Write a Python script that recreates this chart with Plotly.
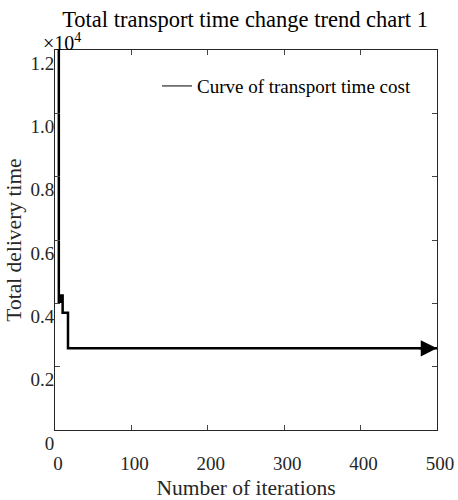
import plotly.graph_objects as go

iterations = [1, 5, 7, 10, 17, 500]
delivery_time = [13800, 4050, 4250, 3700, 2580, 2580]

y_tick_vals = [0, 2000, 4000, 6000, 8000, 10000, 12000]
y_tick_text = ["0", "0.2", "0.4", "0.6", "0.8", "1.0", "1.2"]
x_tick_vals = [0, 100, 200, 300, 400, 500]

FONT = "Liberation Serif, Times New Roman, serif"
TXT = "#262626"
tick_font = dict(family=FONT, size=19, color=TXT)
title_font = dict(family=FONT, size=21.5, color=TXT)

fig = go.Figure()
fig.add_trace(go.Scatter(
    x=iterations, y=delivery_time, mode="lines", line_shape="hv",
    line=dict(color="black", width=2.5), showlegend=False,
    name="Curve of transport time cost",
))
# legend entry (thin line as in the reference legend)
fig.add_trace(go.Scatter(
    x=[None], y=[None], mode="lines", line=dict(color="black", width=1),
    name="Curve of transport time cost", showlegend=True,
))

fig.add_annotation(
    x=iterations[-1], y=delivery_time[-1], ax=iterations[-1] - 25, ay=delivery_time[-1],
    xref="x", yref="y", axref="x", ayref="y", text="", showarrow=True,
    arrowhead=2, arrowsize=1.3, arrowwidth=2.5, arrowcolor="black", standoff=0,
)
fig.add_annotation(
    x=0, y=1, xref="paper", yref="paper", xanchor="center", yanchor="bottom",
    text="×10<sup>4</sup>", showarrow=False, yshift=-6, xshift=7,
    font=dict(family=FONT, size=20, color="black"),
)

fig.update_layout(
    width=458, height=500,
    margin=dict(l=55, r=21, t=50, b=70, autoexpand=False),
    paper_bgcolor="white", plot_bgcolor="white",
    font=dict(family=FONT, size=19, color=TXT),
    title=dict(text="Total transport time change trend chart 1", x=0.535, xanchor="center",
               y=0.962, yanchor="middle", automargin=False,
               font=dict(family=FONT, size=22.5, color="black")),
    showlegend=True,
    legend=dict(x=0.945, y=0.955, xanchor="right", yanchor="top", bgcolor="rgba(0,0,0,0)",
                borderwidth=0, font=dict(family=FONT, size=19, color="black")),
    xaxis=dict(range=[0, 500], tickvals=x_tick_vals, ticks="inside", ticklen=5,
               tickfont=tick_font, automargin=False,
               showline=True, linecolor="#262626", linewidth=1, mirror="ticks",
               showgrid=False, zeroline=False, ticklabelstandoff=16, ticklabelshift=3,
               title=dict(text="Number of iterations", standoff=9, font=title_font)),
    yaxis=dict(range=[0, 12000], tickvals=y_tick_vals, ticktext=y_tick_text,
               tickfont=tick_font, automargin=False,
               ticks="inside", ticklen=5, showline=True, linecolor="#262626", linewidth=1,
               mirror="ticks", showgrid=False, zeroline=False, ticklabelshift=13,
               ticklabelstandoff=-4,
               title=dict(text="Total delivery time", standoff=2, font=title_font)),
)

fig.write_html("out.html")
